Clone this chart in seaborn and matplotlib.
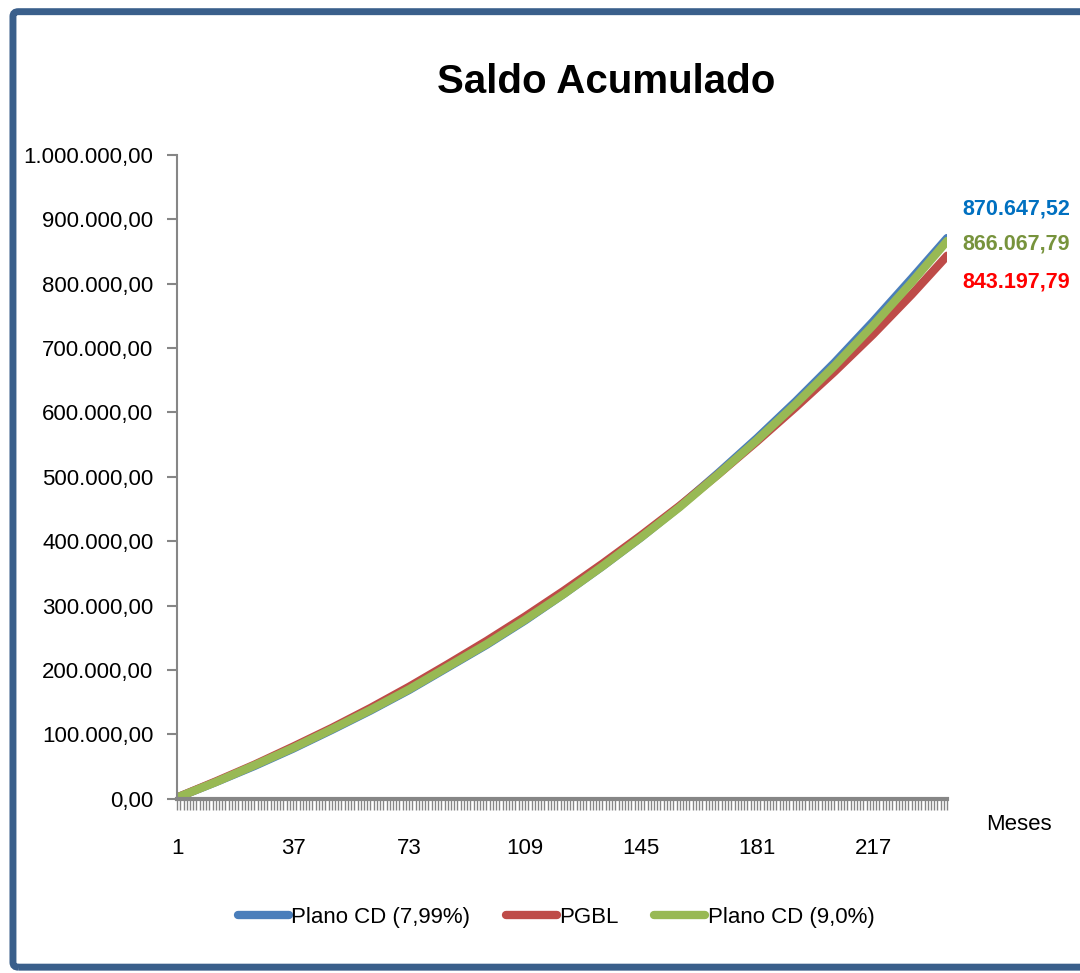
import matplotlib
matplotlib.use("Agg")
import matplotlib.pyplot as plt
from matplotlib.patches import FancyBboxPatch
from matplotlib.ticker import FuncFormatter, FixedLocator
import seaborn as sns
import pandas as pd

# months sampled from the chart (every 12 months + final)
months = [1, 13, 25, 37, 49, 61, 73, 85, 97, 109, 121, 133, 145,
          157, 169, 181, 193, 205, 217, 229, 240]

plano_cd_799 = [2000, 26000, 51000, 78000, 107000, 137000, 169000, 204000,
                239000, 277000, 318000, 361000, 406000, 454000, 506000,
                560000, 617000, 677000, 741000, 808000, 870647.52]
pgbl = [2100, 27000, 53000, 81000, 110000, 141000, 174000, 209000,
        245000, 283000, 323000, 365000, 409000, 455000, 504000,
        555000, 608000, 663000, 721000, 783000, 843197.79]
plano_cd_90 = [2000, 26000, 52000, 79000, 108000, 138000, 170000, 205000,
               240000, 278000, 318000, 361000, 406000, 453000, 504000,
               557000, 613000, 672000, 735000, 802000, 866067.79]

series_names = ["Plano CD (7,99%)", "PGBL", "Plano CD (9,0%)"]
final_labels = ["870.647,52", "843.197,79", "866.067,79"]
line_colors = ["#4A7EBB", "#BE4B48", "#98B954"]
label_colors = ["#0070C0", "#FF0000", "#77933C"]
x_tick_labels = [1, 37, 73, 109, 145, 181, 217]

df = pd.concat([
    pd.DataFrame({"Mes": months, "Saldo": vals, "Serie": name})
    for name, vals in zip(series_names, [plano_cd_799, pgbl, plano_cd_90])
])

sns.set_style("white")
plt.rcParams["font.family"] = ["Liberation Sans", "DejaVu Sans"]
plt.rcParams["text.color"] = "black"
plt.rcParams["xtick.labelcolor"] = "black"
plt.rcParams["ytick.labelcolor"] = "black"

fig = plt.figure(figsize=(10.8, 9.73), dpi=100)
ax = fig.add_axes([0.164, 0.179, 0.713, 0.662])

sns.lineplot(data=df, x="Mes", y="Saldo", hue="Serie", hue_order=series_names,
             palette=dict(zip(series_names, line_colors)), linewidth=6,
             solid_capstyle="round", ax=ax, legend=False)

ax.set_xlim(1, 240)
ax.set_ylim(0, 1000000)
ax.set_yticks(range(0, 1000001, 100000))
ax.yaxis.set_major_formatter(FuncFormatter(
    lambda v, p: f"{v:,.2f}".replace(",", "X").replace(".", ",").replace("X", ".")))
ax.set_xticks(x_tick_labels)
ax.xaxis.set_minor_locator(FixedLocator(range(1, 241)))
ax.set_xlabel("")
ax.set_ylabel("")

for side in ["top", "right"]:
    ax.spines[side].set_visible(False)
for side in ["left", "bottom"]:
    ax.spines[side].set_color("#868686")
    ax.spines[side].set_linewidth(1.5)
ax.spines["bottom"].set_linewidth(3)

ax.tick_params(axis="y", direction="out", length=7, width=1.5, color="#868686",
               labelsize=16, pad=10, left=True, labelcolor="black")
ax.tick_params(axis="x", which="both", direction="out", length=8, width=1,
               color="#868686", labelsize=16, pad=20, bottom=True,
               labelcolor="black")

ax.text(1.05, -0.04, "Meses", transform=ax.transAxes, fontsize=16,
        ha="left", va="center", color="black")

# final value labels
offsets = [(11, 21), (11, -19), (11, -2)]
for vals, lab, col, off in zip([plano_cd_799, pgbl, plano_cd_90], final_labels,
                               label_colors, offsets):
    ax.annotate(lab, xy=(months[-1], vals[-1]), xytext=off,
                textcoords="offset points", color=col, fontsize=15.5,
                fontweight="bold", ha="left", va="center",
                annotation_clip=False)

fig.suptitle("Saldo Acumulado", x=0.561, y=0.935, fontsize=29,
             fontweight="bold", color="black")

handles = [plt.Line2D([0], [0], color=c, lw=6, solid_capstyle="round")
           for c in line_colors]
fig.legend(handles, series_names, loc="center", bbox_to_anchor=(0.515, 0.057),
           ncol=3, frameon=False, fontsize=16, handlelength=2.3,
           handletextpad=0.1, columnspacing=1.6, labelcolor="black")

border = FancyBboxPatch((0.012, 0.006), 1.2, 0.982, transform=fig.transFigure,
                        boxstyle="round,pad=0,rounding_size=0.005",
                        facecolor="none", edgecolor="#3A5F8B", linewidth=5,
                        clip_on=False)
fig.patches.append(border)

fig.savefig("out.png", dpi=100)
